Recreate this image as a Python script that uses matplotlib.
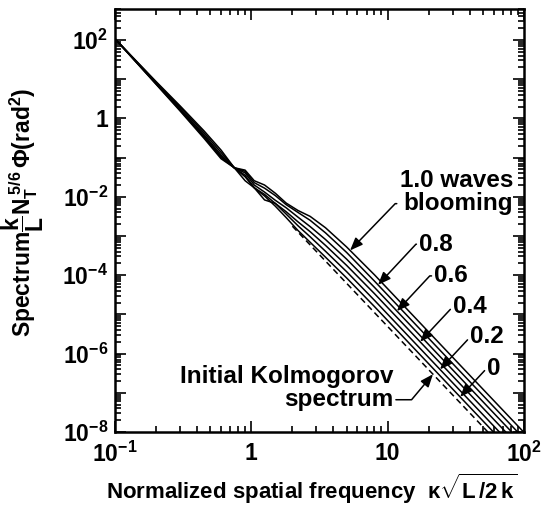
import numpy as np
import matplotlib
matplotlib.use("Agg")
import matplotlib.pyplot as plt
from matplotlib.ticker import FixedLocator, LogLocator, NullFormatter, FuncFormatter

# ---- data: log10 of normalized phase spectrum vs normalized spatial frequency ----
kappa = [0.1, 0.2, 0.3, 0.45, 0.6, 0.75, 0.9, 1.05, 1.25, 1.5, 1.8, 2.2, 2.7, 3.5, 5.0, 8.0, 20.0, 100.0]

blooming_levels = ["0", "0.2", "0.4", "0.6", "0.8", "1.0"]
log_spec_0   = [2.03, 0.94, 0.32, -0.32, -0.81, -1.26, -1.49, -1.77, -1.98, -2.24, -2.53, -2.86, -3.16, -3.54, -4.07, -4.80, -6.26, -8.82]
log_spec_0p2 = [2.03, 0.92, 0.29, -0.37, -0.87, -1.26, -1.59, -1.77, -1.94, -2.17, -2.44, -2.74, -3.02, -3.39, -3.91, -4.64, -6.10, -8.66]
log_spec_0p4 = [2.03, 0.90, 0.25, -0.42, -0.93, -1.26, -1.45, -1.77, -2.08, -2.17, -2.38, -2.64, -2.89, -3.24, -3.75, -4.47, -5.93, -8.49]
log_spec_0p6 = [2.03, 0.89, 0.23, -0.45, -0.97, -1.26, -1.39, -1.70, -1.88, -2.09, -2.28, -2.52, -2.76, -3.09, -3.59, -4.31, -5.77, -8.33]
log_spec_0p8 = [2.03, 0.88, 0.21, -0.48, -1.00, -1.26, -1.35, -1.64, -1.78, -1.97, -2.20, -2.40, -2.60, -2.92, -3.42, -4.15, -5.61, -8.17]
log_spec_1p0 = [2.03, 0.87, 0.19, -0.51, -1.03, -1.26, -1.32, -1.59, -1.70, -1.91, -2.16, -2.35, -2.50, -2.79, -3.28, -3.99, -5.45, -8.01]

# initial Kolmogorov spectrum (kappa^-11/3), drawn dashed
kolmo_kappa = [2.0, 100.0]
log_kolmo = [-2.75, -8.97]

# where each label's arrow meets its curve
arrow_kappa = {"1.0": 5.3, "0.8": 8.5, "0.6": 11.7, "0.4": 17.3, "0.2": 24.2, "0": 34.0}
kolmo_arrow_kappa = 21.5

x_tick_values = [0.1, 1, 10, 100]
x_tick_labels = [r"$10^{-1}$", "1", "10", r"$10^{2}$"]
y_tick_values = [1e-8, 1e-6, 1e-4, 1e-2, 1, 1e2]
y_tick_labels = [r"$10^{-8}$", r"$10^{-6}$", r"$10^{-4}$", r"$10^{-2}$", "1", r"$10^{2}$"]

# ---- style ----
plt.rcParams.update({
    "font.family": "Liberation Sans",
    "font.weight": "bold",
    "mathtext.fontset": "custom",
    "mathtext.rm": "Liberation Sans:bold",
    "mathtext.it": "Liberation Sans:bold",
    "mathtext.bf": "Liberation Sans:bold",
    "mathtext.sf": "Liberation Sans:bold",
    "axes.linewidth": 1.8,
})

fig = plt.figure(figsize=(5.44, 5.08), dpi=100)
ax = fig.add_axes([0.2114, 0.1496, 0.7518, 0.8327])
ax.set_xscale("log")
ax.set_yscale("log")
ax.set_xlim(0.1, 100)
ax.set_ylim(1e-8, 10 ** 2.79)

series = {
    "0": log_spec_0, "0.2": log_spec_0p2, "0.4": log_spec_0p4,
    "0.6": log_spec_0p6, "0.8": log_spec_0p8, "1.0": log_spec_1p0,
}
for name in blooming_levels:
    ax.plot(kappa, 10 ** np.array(series[name]), color="black", lw=1.1,
            solid_joinstyle="round", zorder=3)
ax.plot(kolmo_kappa, 10 ** np.array(log_kolmo), color="black", lw=1.1,
        dashes=(4, 2.5), zorder=3)

# ---- axes, ticks ----
ax.xaxis.set_major_locator(FixedLocator(x_tick_values))
ax.xaxis.set_major_formatter(FuncFormatter(
    lambda v, p: x_tick_labels[x_tick_values.index(v)] if v in x_tick_values else ""))
ax.xaxis.set_minor_locator(LogLocator(base=10, subs=np.arange(2, 10), numticks=20))
ax.xaxis.set_minor_formatter(NullFormatter())

ax.yaxis.set_major_locator(FixedLocator([10.0 ** e for e in range(-8, 3)]))
def ylab(v, p):
    for tv, tl in zip(y_tick_values, y_tick_labels):
        if abs(np.log10(v) - np.log10(tv)) < 1e-6:
            return tl
    return ""
ax.yaxis.set_major_formatter(FuncFormatter(ylab))
ax.yaxis.set_minor_locator(LogLocator(base=10, subs=np.arange(2, 10), numticks=20))
ax.yaxis.set_minor_formatter(NullFormatter())

ax.tick_params(which="both", direction="in", top=True, right=True, width=1.2)
ax.tick_params(which="major", length=8, labelsize=16.5)
ax.tick_params(axis="x", which="major", pad=7)
ax.tick_params(axis="y", which="major", pad=5)
ax.tick_params(which="minor", length=4.5)

ax.set_xlabel(r"Normalized spatial frequency  $\kappa\sqrt{L\,/2\,k}$",
              fontsize=16, fontweight="bold")
ax.xaxis.set_label_coords(0.48, -0.093)
ax.set_ylabel(r"Spectrum$\dfrac{k}{L}N_T^{\,5/6}\,\Phi(\mathrm{rad}^2)$",
              fontsize=16.5, fontweight="bold")
ax.yaxis.set_label_coords(-0.168, 0.52)

# ---- labels with elbow arrows ----
def on_curve(name, k):
    return 10 ** np.interp(np.log10(k), np.log10(kappa), series[name])

arrow_kw = dict(arrowstyle="-|>,head_length=0.55,head_width=0.22", color="black",
                lw=1.1, shrinkA=0, shrinkB=0, mutation_scale=14)

ax.annotate("1.0 waves\nblooming", xy=(arrow_kappa["1.0"], on_curve("1.0", arrow_kappa["1.0"])),
            xytext=(0.973, 0.567), textcoords="axes fraction", ha="right", va="center",
            ma="right", fontsize=17.5, fontweight="bold", linespacing=1.0,
            arrowprops=dict(connectionstyle="angle,angleA=0,angleB=46,rad=0",
                            relpos=(0.0, 0.25), **arrow_kw), zorder=5)

label_pos = {"0.8": (0.785, 0.444), "0.6": (0.822, 0.369), "0.4": (0.868, 0.296),
             "0.2": (0.910, 0.225), "0": (0.927, 0.149)}
for name, pos in label_pos.items():
    k = arrow_kappa[name]
    ax.annotate(name, xy=(k, on_curve(name, k)), xytext=pos, textcoords="axes fraction",
                ha="center", va="center", fontsize=17.5, fontweight="bold",
                arrowprops=dict(connectionstyle="angle,angleA=0,angleB=47,rad=0",
                                relpos=(0.0, 0.5), **arrow_kw), zorder=5)

kolmo_y = 10 ** np.interp(np.log10(kolmo_arrow_kappa), np.log10(kolmo_kappa), log_kolmo)
ax.annotate("Initial Kolmogorov\nspectrum", xy=(kolmo_arrow_kappa, kolmo_y),
            xytext=(0.680, 0.104), textcoords="axes fraction", ha="right", va="center",
            ma="right", fontsize=17.5, fontweight="bold", linespacing=1.05,
            arrowprops=dict(connectionstyle="angle,angleA=0,angleB=50,rad=0",
                            relpos=(1.0, 0.25), **arrow_kw), zorder=5)

fig.savefig("out.png", dpi=100)
